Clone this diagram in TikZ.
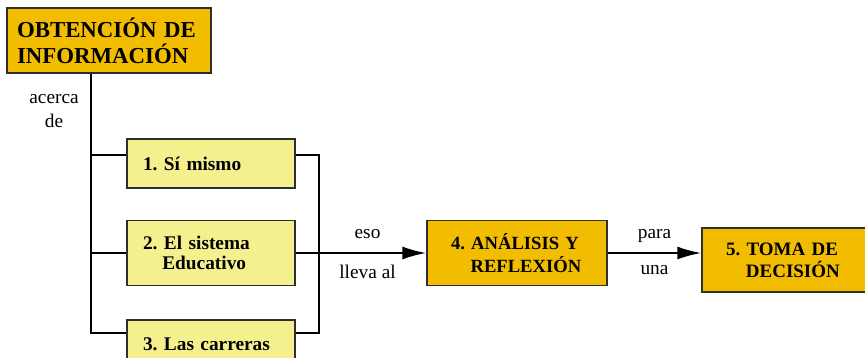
\documentclass[tikz,border=0pt]{standalone}
\usepackage{fontspec}
\setmainfont{Liberation Serif}[BoldFont={Liberation Serif Bold}]
\usetikzlibrary{arrows.meta}
\definecolor{Naranja}{HTML}{F2BD00}
\definecolor{Amarillo}{HTML}{F5F08E}
\definecolor{Borde}{HTML}{2E2E2E}
\frenchspacing

\tikzset{
	caja/.style={draw=Borde, line width=0.8pt, align=left, font=\rmfamily\bfseries\fontsize{11}{11.5}\selectfont},
	cajaamarilla/.style={caja, fill=Amarillo, text width=2.72cm, inner xsep=0.32cm, minimum height=#1},
	cajanaranja/.style={caja, fill=Naranja, inner xsep=0.48cm, minimum height=1.3cm},
	linea/.style={line width=0.04cm, black},
	flecha/.style={linea, -{Latex[length=0.48cm,width=0.26cm]}},
	rotulo/.style={font=\rmfamily\fontsize{11}{12}\selectfont}
}

\begin{document}
\begin{tikzpicture}[x=0.02cm, y=-0.02cm]

	\useasboundingbox (0,0) rectangle (865,358);

	% cajas
	\node[caja, fill=Naranja, text width=3.68cm, inner xsep=0.2cm, minimum height=1.3cm,
		font=\rmfamily\bfseries\fontsize{13}{14.7}\selectfont] (obt) at (109,40.5)
		{OBTENCIÓN DE\\INFORMACIÓN};

	\node[cajaamarilla=0.98cm] (sel) at (211,163.5) {1. Sí mismo};
	\node[cajaamarilla=1.3cm, font=\rmfamily\bfseries\fontsize{11}{11.3}\selectfont] (edu) at (211,253)
		{2. El sistema\\\hspace*{1em}Educativo};
	\node[cajaamarilla=0.98cm] (car) at (211,344.5) {3. Las carreras};

	\node[cajanaranja, text width=2.64cm, font=\rmfamily\bfseries\fontsize{10.6}{13}\selectfont] (ana) at (517,253)
		{4. ANÁLISIS Y\\\hspace*{1.05em}REFLEXIÓN};
	\node[cajanaranja, text width=2.6cm, minimum height=1.28cm, font=\rmfamily\bfseries\fontsize{10.8}{12.5}\selectfont] (dec) at (791,260)
		{5. TOMA DE\\\hspace*{1.05em}DECISIÓN};

	% puntos de union
	\coordinate (selO) at ([yshift=0.17cm]sel.west);
	\coordinate (selE) at ([yshift=0.17cm]sel.east);
	\coordinate (carO) at ([yshift=-0.28cm]car.north west);
	\coordinate (carE) at ([yshift=-0.28cm]car.north east);
	\coordinate (tronco) at (91,0);
	\coordinate (llave) at (319,0);

	% conectores a la izquierda
	\draw[linea] (obt.south -| tronco) -- (tronco |- carO) -- (carO);
	\draw[linea] (tronco |- selO) -- (selO);
	\draw[linea] (tronco |- edu.west) -- (edu.west);

	\node[rotulo] (acerca) at (54,99) {acerca};
	\node[rotulo] (de) at (54,121) {de};

	% llave a la derecha
	\draw[linea] (selE) -| (llave |- carE) -- (carE);

	% flechas
	\draw[flecha] (edu.east) -- (ana.west)
		node[rotulo, pos=0.55, above=4pt] (eso) {eso}
		node[rotulo, pos=0.55, below=3pt] (lleva) {lleva al};
	\draw[flecha] (ana.east) -- (ana.east -| dec.west)
		node[rotulo, midway, above=2pt] (para) {para}
		node[rotulo, midway, below=3pt] (una) {una};

\end{tikzpicture}
\end{document}
